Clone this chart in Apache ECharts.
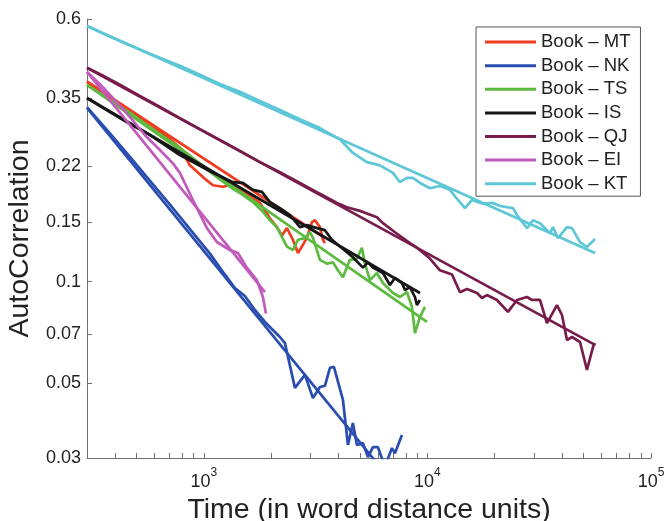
<!DOCTYPE html>
<html><head><meta charset="utf-8">
<script src="https://cdn.jsdelivr.net/npm/echarts@6/dist/echarts.min.js"></script>
<style>html,body{margin:0;padding:0;background:#fff}#c{width:665px;height:521px}</style>
</head><body><div id="c"></div>
<script>
const books = ['Book – MT','Book – NK','Book – TS','Book – IS','Book – QJ','Book – EI','Book – KT'];
const colors = ['#ef3d20','#2a4eb0','#5cbb3f','#161616','#771c4b','#c15bbb','#5ec7d7'];

const yTickValues = [0.03,0.05,0.07,0.1,0.15,0.22,0.35,0.6];
const xLabelValues = [1000,10000,100000];
const xTickValues = [400,500,600,700,800,900,1000,2000,3000,4000,5000,6000,7000,8000,9000,10000,20000,30000,40000,50000,60000,70000,80000,90000,100000];

const mtTime = [300,380,467,573,705,781,866,990,1097,1216,1307,1449,1606,1781,1974,2121,2234,2352,2502,2634,2745,2890,3043,3139,3304,3408,3479];
const mtCorr = [0.391,0.353,0.320,0.293,0.264,0.249,0.221,0.204,0.193,0.191,0.193,0.187,0.180,0.171,0.154,0.145,0.137,0.144,0.133,0.1215,0.127,0.135,0.150,0.152,0.145,0.133,0.130];
const mtFitTime = [300,3479];
const mtFitCorr = [0.391,0.1345];

const nkTime = [300,380,467,573,705,866,1064,1241,1376,1526,1691,1875,2188,2304,2554,2831,3075,3304,3479,3663,3816,4188,4409,4641,4836,5146,5418,5704,6005,6455,6937,7156,7690];
const nkCorr = [0.329,0.275,0.234,0.199,0.169,0.143,0.121,0.105,0.0957,0.0906,0.0824,0.0759,0.0685,0.0657,0.0484,0.0529,0.0452,0.0487,0.0491,0.0555,0.0559,0.0446,0.0328,0.0381,0.0328,0.0332,0.0302,0.0323,0.0323,0.0283,0.0321,0.0310,0.0351];
const nkFitTime = [300,7690];
const nkFitCorr = [0.327,0.0235];

const tsTime = [300,380,467,573,781,1143,1307,1449,1656,1837,1974,2121,2352,2502,2634,2831,2981,3075,3304,3551,3778,3978,4188,4500,4836,5093,5253,5530,5943,6324,7010,7534,8097,8524,8792,9257,9747];
const tsCorr = [0.383,0.345,0.316,0.287,0.249,0.204,0.191,0.183,0.172,0.161,0.152,0.145,0.127,0.124,0.133,0.1345,0.140,0.135,0.116,0.113,0.114,0.108,0.103,0.116,0.117,0.126,0.113,0.101,0.106,0.099,0.0925,0.090,0.0931,0.0841,0.0704,0.0785,0.0841];
const tsFitTime = [300,9950];
const tsFitCorr = [0.383,0.0759];

const isTime = [300,380,467,573,781,1097,1348,1494,1656,1818,1974,2188,2426,2689,2890,3204,3479,3738,4060,4641,5146,5418,5704,6324,6796,7156,7690,7933,8350,8792,8974,9257];
const isCorr = [0.350,0.318,0.293,0.272,0.237,0.210,0.197,0.196,0.187,0.1845,0.172,0.165,0.1575,0.145,0.147,0.144,0.142,0.133,0.127,0.118,0.110,0.114,0.110,0.106,0.0977,0.1025,0.099,0.0944,0.0963,0.090,0.0852,0.0882];
const isFitTime = [300,9257];
const isFitCorr = [0.350,0.0925];

const qjTime = [300,342,421,517,636,781,960,1179,1449,1781,2188,2689,3304,3937,4363,4989,5943,6324,7156,8350,8974,10260,11370,12870,13980,15020,16660,17540,18460,20460,22920,25150,27880,29350,31870,34250,37970,39970,42090,44310,48120,51710,55020,56160];
const qjCorr = [0.430,0.4125,0.383,0.355,0.329,0.305,0.283,0.263,0.244,0.226,0.211,0.196,0.182,0.171,0.166,0.162,0.155,0.149,0.140,0.130,0.126,0.117,0.108,0.105,0.093,0.095,0.0925,0.0894,0.0912,0.0882,0.0813,0.0882,0.090,0.0882,0.0882,0.0753,0.0852,0.0796,0.0671,0.0685,0.0662,0.0547,0.064,0.0657];
const qjFitTime = [300,56160];
const qjFitCorr = [0.430,0.0649];

const eiTime = [300,342,400,467,544,636,727,781,893,1032,1143,1307,1420,1557,1726,1837,1895];
const eiCorr = [0.418,0.385,0.345,0.307,0.272,0.2455,0.224,0.210,0.1745,0.144,0.131,0.124,0.1215,0.110,0.101,0.090,0.0804];
const eiFitTime = [300,1875];
const eiFitCorr = [0.418,0.0931];

const ktTime = [300,342,421,573,781,960,1179,1449,1781,2188,2689,3304,4060,4641,5362,6131,7010,7534,8097,8612,9257,10260,11370,12610,13550,14720,15820,17720,19640,21110,24130,25150,27880,29650,31870,35330,36440,38360,42090,44310,48120,51710,56160];
const ktCorr = [0.572,0.549,0.5165,0.473,0.436,0.410,0.385,0.365,0.343,0.3225,0.303,0.285,0.264,0.2405,0.226,0.221,0.210,0.197,0.203,0.203,0.196,0.189,0.192,0.187,0.176,0.165,0.1745,0.170,0.171,0.1675,0.165,0.1575,0.144,0.152,0.149,0.139,0.145,0.1345,0.145,0.144,0.131,0.1266,0.1337];
const ktFitTime = [300,56160];
const ktFitCorr = [0.572,0.1215];

const dataSets = [
  [mtTime, mtCorr, mtFitTime, mtFitCorr],
  [nkTime, nkCorr, nkFitTime, nkFitCorr],
  [tsTime, tsCorr, tsFitTime, tsFitCorr],
  [isTime, isCorr, isFitTime, isFitCorr],
  [qjTime, qjCorr, qjFitTime, qjFitCorr],
  [eiTime, eiCorr, eiFitTime, eiFitCorr],
  [ktTime, ktCorr, ktFitTime, ktFitCorr]
];
const zip = (a, b) => a.map((v, i) => [v, b[i]]);

const FONT = '"Liberation Sans", Arial, Helvetica, sans-serif';
const series = [];
dataSets.forEach((d, i) => {
  [[d[0], d[1]], [d[2], d[3]]].forEach(p => {
    series.push({
      name: books[i], type: 'line', data: zip(p[0], p[1]),
      symbol: 'none', showSymbol: false, clip: true, silent: true,
      lineStyle: {color: colors[i], width: 2.7}, itemStyle: {color: colors[i]},
      z: 2 + i
    });
  });
});

const chart = echarts.init(document.getElementById('c'), null, {renderer: 'canvas'});
chart.setOption({
  animation: false,
  backgroundColor: '#ffffff',
  grid: {left: 87, right: 14, top: 19, bottom: 63, containLabel: false, outerBoundsMode: 'none'},
  legend: {
    data: books, orient: 'vertical', left: 476, top: 27,
    icon: 'rect', itemWidth: 51, itemHeight: 3, itemGap: 4.6,
    padding: [5.6, 10, 3, 9],
    borderColor: '#555', borderWidth: 1, backgroundColor: '#fff',
    selectedMode: false,
    textStyle: {fontSize: 18.5, lineHeight: 18, color: '#222', fontFamily: FONT}
  },
  xAxis: {
    type: 'log', logBase: 10, min: 300, max: 100000,
    axisLine: {lineStyle: {color: '#707070', width: 1}},
    axisTick: {inside: true, length: 5, customValues: xTickValues, lineStyle: {color: '#707070'}},
    axisLabel: {
      customValues: xLabelValues, margin: 9, color: '#222', fontFamily: FONT,
      formatter: v => '{b|10}{s|' + Math.round(Math.log10(v)) + '}',
      rich: {
        b: {fontSize: 18, lineHeight: 24, verticalAlign: 'bottom', fontFamily: FONT, color: '#222'},
        s: {fontSize: 12, lineHeight: 14, verticalAlign: 'top', fontFamily: FONT, color: '#222'}
      }
    },
    splitLine: {show: false},
    name: 'Time (in word distance units)', nameLocation: 'middle', nameGap: 30,
    nameTextStyle: {fontSize: 28.5, color: '#222', fontFamily: FONT}
  },
  yAxis: {
    type: 'log', logBase: 10, min: 0.03, max: 0.6,
    axisLine: {lineStyle: {color: '#707070', width: 1}},
    axisTick: {inside: true, length: 5, customValues: yTickValues, lineStyle: {color: '#707070'}},
    axisLabel: {
      customValues: yTickValues, margin: 6, fontSize: 18, color: '#222', fontFamily: FONT,
      formatter: v => String(+(+v).toPrecision(2))
    },
    splitLine: {show: false},
    name: 'AutoCorrelation', nameLocation: 'middle', nameGap: 48, nameRotate: 90,
    nameTextStyle: {fontSize: 28.5, color: '#222', fontFamily: FONT}
  },
  series: series
});
</script>
</body></html>
